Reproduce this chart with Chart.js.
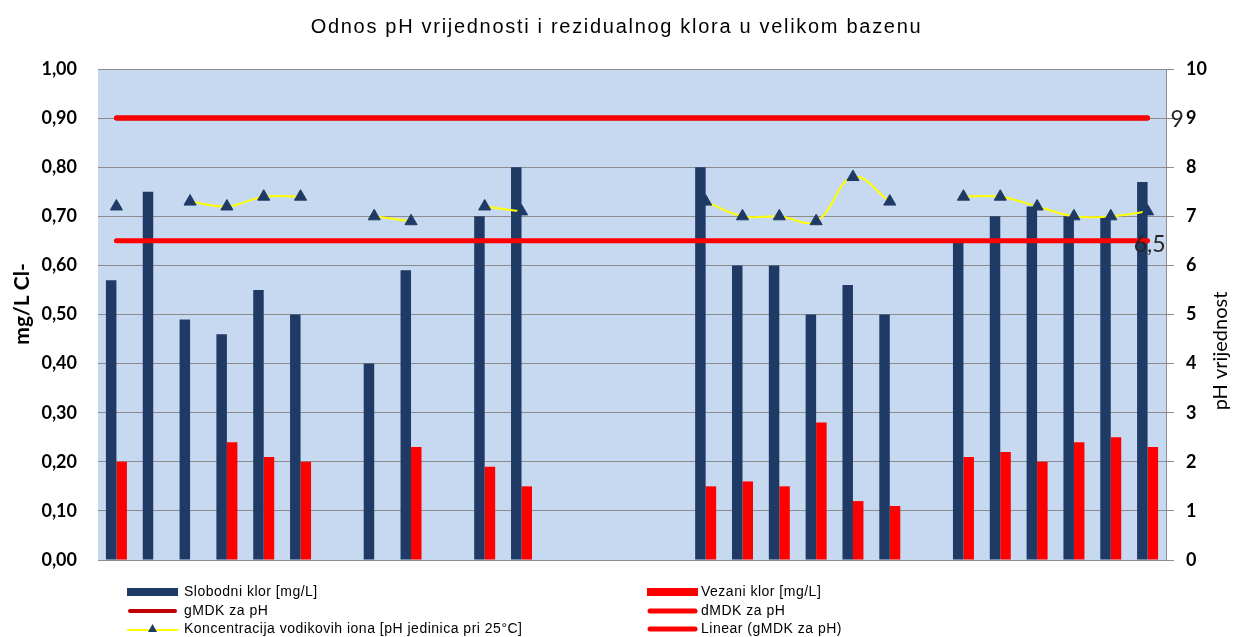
<!DOCTYPE html>
<html>
<head>
<meta charset="utf-8">
<script src="https://cdn.jsdelivr.net/npm/chart.js@4.4.1/dist/chart.umd.min.js"></script>
<style>
  html, body { margin: 0; padding: 0; background: #fff; }
  #wrap { position: relative; width: 1233px; height: 637px; overflow: hidden; }
  #c { position: absolute; left: 0; top: 0; }
  #title { position: absolute; left: 0; width: 1233px; top: 14px; text-align: center;
    font: 20px "Liberation Sans", Arial, sans-serif; letter-spacing: 1.7px; color: #000; line-height: 24px; }
  .lg { position: absolute; height: 18px; line-height: 18px; font: 14px "Liberation Sans Narrow", "Liberation Sans", Arial, sans-serif; letter-spacing: 0.5px; color: #000; white-space: nowrap; }
  .lg svg { position: absolute; left: 0; top: 0; }
  .lg span { position: absolute; top: 0; }
</style>
</head>
<body>
<div id="wrap">
  <canvas id="c" width="1233" height="637"></canvas>
  <div id="title">Odnos pH vrijednosti i rezidualnog klora u velikom bazenu</div>
  <div id="legend"></div>
</div>
<script>
// ---- data ----
const categories = ['1','2','3','4','5','6','7','8','9','10','11','12','13','14','15','16','17','18','19','20','21','22','23','24','25','26','27','28','29'];
const freeChlorine = [0.57, 0.75, 0.49, 0.46, 0.55, 0.50, null, 0.40, 0.59, null, 0.70, 0.80, null, null, null, null, 0.80, 0.60, 0.60, 0.50, 0.56, 0.50, null, 0.65, 0.70, 0.72, 0.70, 0.70, 0.77];
const boundChlorine = [0.20, null, null, 0.24, 0.21, 0.20, null, null, 0.23, null, 0.19, 0.15, null, null, null, null, 0.15, 0.16, 0.15, 0.28, 0.12, 0.11, null, 0.21, 0.22, 0.20, 0.24, 0.25, 0.23];
const phValues = [7.2, null, 7.3, 7.2, 7.4, 7.4, null, 7.0, 6.9, null, 7.2, 7.1, null, null, null, null, 7.3, 7.0, 7.0, 6.9, 7.8, 7.3, null, 7.4, 7.4, 7.2, 7.0, 7.0, 7.1];
const phUpperLimit = [9, 9, 9, 9, 9, 9, 9, 9, 9, 9, 9, 9, 9, 9, 9, 9, 9, 9, 9, 9, 9, 9, 9, 9, 9, 9, 9, 9, 9];
const phLowerLimit = [6.5, 6.5, 6.5, 6.5, 6.5, 6.5, 6.5, 6.5, 6.5, 6.5, 6.5, 6.5, 6.5, 6.5, 6.5, 6.5, 6.5, 6.5, 6.5, 6.5, 6.5, 6.5, 6.5, 6.5, 6.5, 6.5, 6.5, 6.5, 6.5];
const upperTrend = [9, 9, 9, 9, 9, 9, 9, 9, 9, 9, 9, 9, 9, 9, 9, 9, 9, 9, 9, 9, 9, 9, 9, 9, 9, 9, 9, 9, 9];
const leftTickLabels = ['0,00','0,10','0,20','0,30','0,40','0,50','0,60','0,70','0,80','0,90','1,00'];
const rightTickLabels = ['0','1','2','3','4','5','6','7','8','9','10'];
const seriesNames = ['Slobodni klor [mg/L]', 'Vezani klor [mg/L]', 'gMDK za pH', 'dMDK za pH', 'Koncentracija vodikovih iona [pH jedinica pri 25°C]', 'Linear (gMDK za pH)'];
const leftAxisTitle = 'mg/L Cl-';
const rightAxisTitle = 'pH vrijednost';
const upperLabel = '9';
const lowerLabel = '6,5';

const NAVY = '#1F3B65';
const RED = '#FF0000';
const DARKRED = '#C00000';
const YELLOW = '#FFFF00';
const GRID = '#8C8C8C';

const bgPlugin = {
  id: 'plotBg',
  beforeDraw(chart) {
    const {ctx, chartArea: a} = chart;
    ctx.save();
    ctx.fillStyle = '#C6D9F0';
    ctx.fillRect(a.left, a.top, a.right - a.left, a.bottom - a.top);
    ctx.restore();
  }
};

const textPlugin = {
  id: 'extraText',
  afterDraw(chart) {
    const ctx = chart.ctx;
    ctx.save();
    ctx.fillStyle = '#000';
    ctx.textAlign = 'center';
    ctx.textBaseline = 'middle';
    ctx.save();
    ctx.translate(22, 304);
    ctx.rotate(-Math.PI / 2);
    ctx.font = 'bold 21px Lato, "Open Sans", sans-serif';
    ctx.fillText(leftAxisTitle, 0, 0);
    ctx.restore();
    ctx.save();
    ctx.translate(1221, 351);
    ctx.rotate(-Math.PI / 2);
    ctx.font = '20px Lato, "Open Sans", sans-serif';
    ctx.fillText(rightAxisTitle, 0, 0);
    ctx.restore();
    ctx.font = '23px Lato, "Open Sans", sans-serif';
    ctx.fillStyle = '#262626';
    const up = chart.getDatasetMeta(2).data;
    const lo = chart.getDatasetMeta(3).data;
    const pu = up[up.length - 1];
    const pl = lo[lo.length - 1];
    ctx.textAlign = 'left';
    ctx.fillText(upperLabel, pu.x + 23, pu.y + 1);
    ctx.textAlign = 'center';
    ctx.fillText(lowerLabel, pl.x + 2, pl.y + 4);
    ctx.restore();
  }
};

const chart = new Chart(document.getElementById('c'), {
  type: 'bar',
  data: {
    labels: categories,
    datasets: [
      { type: 'bar', label: seriesNames[0], data: freeChlorine, backgroundColor: NAVY, borderWidth: 0, yAxisID: 'y', order: 3 },
      { type: 'bar', label: seriesNames[1], data: boundChlorine, backgroundColor: RED, borderWidth: 0, yAxisID: 'y', order: 3 },
      { type: 'line', label: seriesNames[2], data: phUpperLimit, borderColor: DARKRED, borderWidth: 5, pointRadius: 0, yAxisID: 'y2', order: 2, borderCapStyle: 'round' },
      { type: 'line', label: seriesNames[3], data: phLowerLimit, borderColor: RED, borderWidth: 5, pointRadius: 0, yAxisID: 'y2', order: 1, borderCapStyle: 'round' },
      { type: 'line', label: seriesNames[4], data: phValues, borderColor: YELLOW, borderWidth: 2, tension: 0.4, spanGaps: false,
        pointStyle: 'triangle', pointRadius: 7, pointBackgroundColor: NAVY, pointBorderColor: NAVY, pointBorderWidth: 1, yAxisID: 'y2', order: 0 },
      { type: 'line', label: seriesNames[5], data: upperTrend, borderColor: RED, borderWidth: 5, pointRadius: 0, yAxisID: 'y2', order: 1, borderCapStyle: 'round' }
    ]
  },
  options: {
    responsive: false,
    devicePixelRatio: 1,
    animation: false,
    layout: { padding: { left: 0, right: 0, top: 69, bottom: 77 } },
    datasets: { bar: { categoryPercentage: 0.57, barPercentage: 1.0 } },
    plugins: { legend: { display: false }, title: { display: false }, tooltip: { enabled: false } },
    scales: {
      x: { type: 'category', display: false, offset: true, grid: { display: false } },
      y: {
        position: 'left', min: 0, max: 1,
        afterFit(s) { s.width = 98; },
        grid: { color: GRID, lineWidth: 1, drawTicks: false },
        border: { display: false },
        ticks: { stepSize: 0.1, padding: 21, color: '#000', font: { family: 'Lato, "Open Sans", sans-serif', size: 18, weight: 'bold' },
          callback: (v, i) => leftTickLabels[i] }
      },
      y2: {
        position: 'right', min: 0, max: 10,
        afterFit(s) { s.width = 67; },
        grid: { drawOnChartArea: false, drawTicks: true, tickLength: 8, color: GRID },
        border: { display: true, color: GRID, width: 1 },
        ticks: { stepSize: 1, padding: 12, color: '#000', font: { family: 'Lato, "Open Sans", sans-serif', size: 18, weight: 'bold' },
          callback: (v, i) => rightTickLabels[i] }
      }
    }
  },
  plugins: [bgPlugin, textPlugin]
});

// ---- HTML legend built from the chart's datasets ----
const legendLayout = [
  { ds: 0, left: 127, top: 583, kind: 'bar' },
  { ds: 1, left: 647, top: 583, kind: 'bar' },
  { ds: 2, left: 127, top: 602, kind: 'line' },
  { ds: 3, left: 647, top: 602, kind: 'line' },
  { ds: 4, left: 127, top: 620, kind: 'marker' },
  { ds: 5, left: 647, top: 620, kind: 'line' }
];
const lg = document.getElementById('legend');
legendLayout.forEach(item => {
  const d = chart.data.datasets[item.ds];
  const el = document.createElement('div');
  el.className = 'lg';
  el.style.left = item.left + 'px';
  el.style.top = item.top + 'px';
  el.style.width = '520px';
  let svg = '';
  if (item.kind === 'bar') {
    svg = `<svg width="52" height="18"><rect x="0" y="5" width="51" height="8" fill="${d.backgroundColor}"/></svg>`;
  } else if (item.kind === 'line') {
    const w = item.ds === 2 ? 4 : 5;
    svg = `<svg width="52" height="18"><line x1="3" y1="9" x2="48" y2="9" stroke="${d.borderColor}" stroke-width="${w}" stroke-linecap="round"/></svg>`;
  } else {
    svg = `<svg width="52" height="18"><line x1="0" y1="10" x2="51" y2="10" stroke="${d.borderColor}" stroke-width="2"/><polygon points="25.5,4 30,12 21,12" fill="${d.pointBackgroundColor}"/></svg>`;
  }
  el.innerHTML = svg + `<span style="left:${item.ds === 4 || item.ds === 0 || item.ds === 2 ? 57 : 54}px">${d.label}</span>`;
  lg.appendChild(el);
});
</script>
</body>
</html>
